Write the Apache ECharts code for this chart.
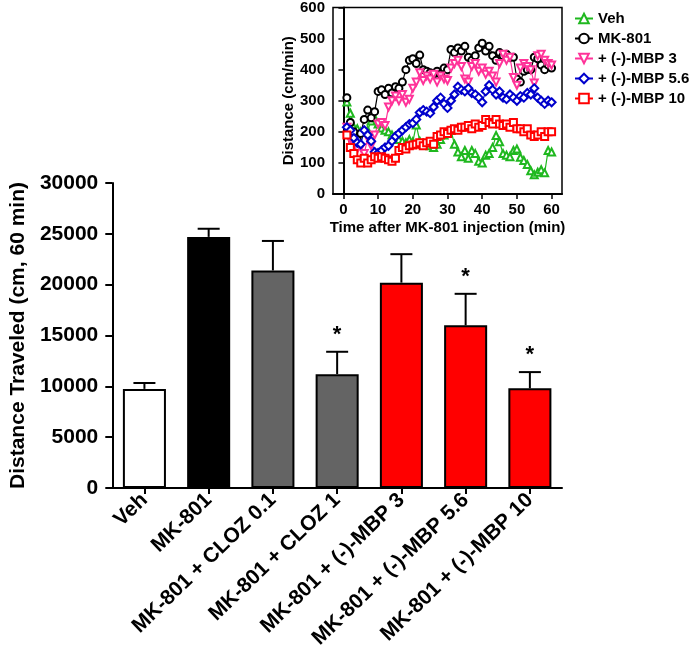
<!DOCTYPE html>
<html><head><meta charset="utf-8">
<script src="https://cdn.jsdelivr.net/npm/echarts@6/dist/echarts.min.js"></script>
<style>html,body{margin:0;padding:0;background:#fff}#c{width:694px;height:668px}</style>
</head><body><div id="c"></div>
<script>
// ---- Main bar chart data ----
const categories = ['Veh','MK-801','MK-801 + CLOZ 0.1','MK-801 + CLOZ 1','MK-801 + (-)-MBP 3','MK-801 + (-)-MBP 5.6','MK-801 + (-)-MBP 10'];
const means = [9750, 24700, 21400, 11200, 20200, 16000, 9800];
const errUpper = [10330, 25500, 24300, 13400, 23000, 19100, 11400];
const significant = [false, false, false, true, false, true, true];
const yTicks = [0, 5000, 10000, 15000, 20000, 25000, 30000];

// ---- Inset time-course data ----
const timeMin = [1,2,3,4,5,6,7,8,9,10,11,12,13,14,15,16,17,18,19,20,21,22,23,24,25,26,27,28,29,30,31,32,33,34,35,36,37,38,39,40,41,42,43,44,45,46,47,48,49,50,51,52,53,54,55,56,57,58,59,60];
const timeTicks = [0,10,20,30,40,50,60];
const seriesNames = ['Veh','MK-801','+ (-)-MBP 3','+ (-)-MBP 5.6','+ (-)-MBP 10'];
const veh = [296,260,215,210,200,200,205,235,245,225,212,205,200,190,185,175,170,165,175,168,222,170,160,165,155,150,160,175,190,200,205,160,135,120,140,115,140,130,105,100,125,130,150,188,168,130,125,120,140,145,118,108,95,75,62,70,78,68,140,135];
const mk801 = [310,230,200,175,195,240,270,245,265,330,335,320,340,325,345,340,360,400,430,435,420,447,400,395,390,385,395,385,405,400,465,455,470,460,475,440,430,445,470,485,460,475,445,430,455,445,450,440,440,370,360,395,400,400,440,435,415,400,415,405];
const mbp3 = [215,175,160,145,150,130,180,155,190,225,230,220,280,300,315,300,320,295,305,340,360,390,365,380,370,385,360,380,370,365,405,420,430,410,370,360,410,420,395,405,385,395,380,360,420,450,430,440,375,350,405,420,410,400,357,445,450,430,420,415];
const mbp56 = [215,205,180,165,160,205,190,170,135,132,140,150,155,170,185,195,205,215,225,228,240,262,270,265,260,280,300,310,290,277,300,320,345,335,330,340,325,320,310,295,330,350,335,320,330,310,305,320,310,300,315,310,325,320,340,310,300,290,300,295];
const mbp10 = [190,150,130,110,100,115,100,110,120,115,120,115,110,105,115,140,150,145,155,158,160,165,155,165,170,160,185,190,200,195,205,210,205,215,215,220,210,225,215,220,240,230,225,240,225,220,225,215,230,210,210,200,210,190,185,190,200,185,200,200];

// ---- styles (not data) ----
const barFills = ['#ffffff','#000000','#646464','#646464','#ff0000','#ff0000','#ff0000'];
const lineColors = ['#1fb81f','#000000','#ff3399','#0000cc','#ff0000'];
const lineSymbols = ['emptyTriangle','emptyCircle','emptyTriangle','emptyDiamond','emptyRect'];
const lineRot = [0,0,180,0,0];
const FONT = 'Arial, "Liberation Sans", sans-serif';

const inset = [veh, mk801, mbp3, mbp56, mbp10];

const chart = echarts.init(document.getElementById('c'));

const lineSeries = inset.map((vals, k) => ({
  type: 'line', name: seriesNames[k], xAxisIndex: 1, yAxisIndex: 1,
  data: timeMin.map((t, i) => [t, vals[i]]),
  symbol: lineSymbols[k], symbolSize: k === 3 ? 8 : 7, symbolRotate: lineRot[k],
  color: lineColors[k],
  lineStyle: { width: 1.2, color: lineColors[k] },
  itemStyle: { color: lineColors[k], borderColor: lineColors[k], borderWidth: 1.2 },
  z: 5, animation: false
}));

const option = {
  animation: false,
  backgroundColor: '#fff',
  textStyle: { fontFamily: FONT },
  grid: [
    { left: 104, right: 132, top: 183, bottom: 180 },
    { left: 333, right: 132, top: 7, bottom: 474, show: true, borderColor: '#000', borderWidth: 1.5, backgroundColor: 'transparent' }
  ],
  legend: {
    data: seriesNames, orient: 'vertical', left: 569, top: 6,
    itemWidth: 18, itemHeight: 12, itemGap: 5,
    textStyle: { fontFamily: FONT, fontWeight: 'bold', fontSize: 15, color: '#000', lineHeight: 14 }
  },
  xAxis: [
    {
      type: 'category', gridIndex: 0, data: categories,
      axisLine: { lineStyle: { color: '#000', width: 2 } },
      axisTick: { show: true, alignWithLabel: true, length: 6, lineStyle: { color: '#000', width: 2 } },
      axisLabel: { rotate: 44, fontFamily: FONT, fontWeight: 'bold', fontSize: 21, color: '#000', margin: 9, interval: 0 }
    },
    {
      type: 'value', gridIndex: 1, min: -3, max: 63,
      name: 'Time after MK-801 injection (min)', nameLocation: 'middle', nameGap: 26,
      nameTextStyle: { fontFamily: FONT, fontWeight: 'bold', fontSize: 15, color: '#000' },
      splitLine: { show: false },
      axisLine: { onZero: false, lineStyle: { color: '#000', width: 2 } },
      axisTick: { show: true, customValues: timeTicks, length: 5, lineStyle: { color: '#000', width: 1.5 } },
      axisLabel: { customValues: timeTicks, fontFamily: FONT, fontWeight: 'bold', fontSize: 15, color: '#000', margin: 8 }
    }
  ],
  yAxis: [
    {
      type: 'value', gridIndex: 0, min: 0, max: 30000, interval: 5000,
      name: 'Distance Traveled (cm, 60 min)', nameLocation: 'middle', nameGap: 73,
      nameTextStyle: { fontFamily: FONT, fontWeight: 'bold', fontSize: 21, color: '#000' },
      splitLine: { show: false },
      axisLine: { show: true, lineStyle: { color: '#000', width: 2 } },
      axisTick: { show: true, length: 7, lineStyle: { color: '#000', width: 2 } },
      axisLabel: { fontFamily: FONT, fontWeight: 'bold', fontSize: 21, color: '#000', margin: 14, formatter: v => String(v) }
    },
    {
      type: 'value', gridIndex: 1, min: 0, max: 600, interval: 100,
      name: 'Distance (cm/min)', nameLocation: 'middle', nameGap: 37,
      nameTextStyle: { fontFamily: FONT, fontWeight: 'bold', fontSize: 15, color: '#000' },
      splitLine: { show: false },
      axisLine: { show: true, lineStyle: { color: '#000', width: 2 } },
      axisTick: { show: true, length: 5, lineStyle: { color: '#000', width: 1.5 } },
      axisLabel: { fontFamily: FONT, fontWeight: 'bold', fontSize: 15, color: '#000', margin: 8 }
    }
  ],
  series: [
    {
      type: 'bar', xAxisIndex: 0, yAxisIndex: 0, barWidth: '67%',
      data: means.map((v, i) => ({ value: v, itemStyle: { color: barFills[i] } })),
      itemStyle: { borderColor: '#000', borderWidth: 2 }, z: 2
    },
    {
      type: 'custom', xAxisIndex: 0, yAxisIndex: 0, z: 3,
      data: means.map((v, i) => [i, v, errUpper[i]]),
      renderItem: function (params, api) {
        const base = api.coord([api.value(0), api.value(1)]);
        const top = api.coord([api.value(0), api.value(2)]);
        const hw = 11;
        return { type: 'group', children: [
          { type: 'line', shape: { x1: base[0], y1: base[1], x2: top[0], y2: top[1] }, style: { stroke: '#000', lineWidth: 2 } },
          { type: 'line', shape: { x1: top[0] - hw, y1: top[1], x2: top[0] + hw, y2: top[1] }, style: { stroke: '#000', lineWidth: 2 } }
        ]};
      }
    },
    {
      type: 'custom', xAxisIndex: 0, yAxisIndex: 0, z: 3,
      data: errUpper.map((v, i) => [i, v, significant[i] ? 1 : 0]),
      renderItem: function (params, api) {
        if (!api.value(2)) return null;
        const p = api.coord([api.value(0), api.value(1)]);
        return { type: 'text', x: p[0], y: p[1] - 6, style: { text: '*', fontFamily: FONT, fontWeight: 'bold', fontSize: 22, fill: '#000', align: 'center', verticalAlign: 'bottom' } };
      }
    }
  ].concat(lineSeries)
};
chart.setOption(option);
</script>
</body></html>
